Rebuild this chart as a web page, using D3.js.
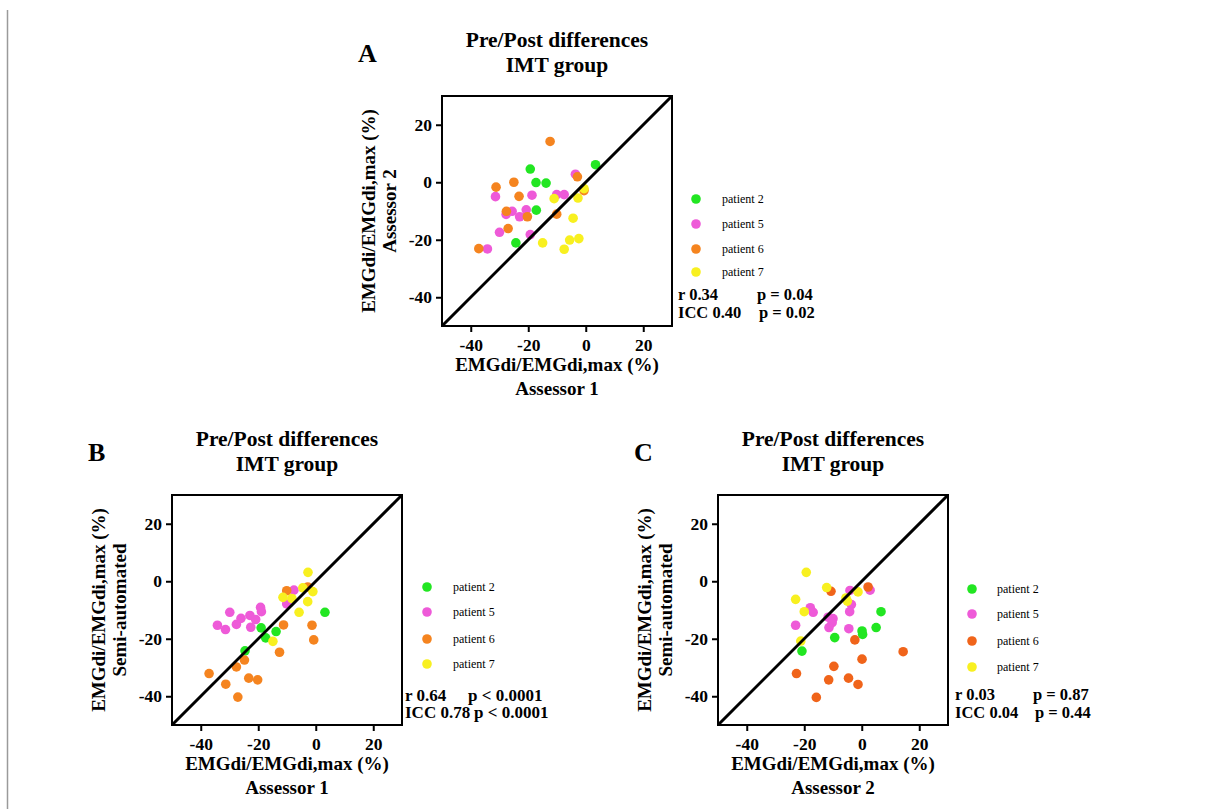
<!DOCTYPE html>
<html>
<head>
<meta charset="utf-8">
<script src="https://cdn.jsdelivr.net/npm/d3@7"></script>
<style>
body { margin: 0; background: #fff; }
text { font-family: "Liberation Serif", "Times New Roman", serif; }
</style>
</head>
<body>
<svg id="fig" width="1212" height="809"></svg>
<script>
var patients = ['patient 2', 'patient 5', 'patient 6', 'patient 7'];
var tickVals = [-40, -20, 0, 20];
var axisDomain = [-50, 30];

// panel A: assessor 1 (x) vs assessor 2 (y)
var a_p2 = [[-19.3,4.6],[-17.3,-0.1],[-13.8,-0.3],[-17.2,-9.7],[-24.3,-21.1],[3.4,6.1]];
var a_p5 = [[-31.4,-5],[-25.6,-10.1],[-27.7,-11.2],[-23,-12],[-20.7,-9.6],[-18.7,-4.5],[-30,-17.4],[-34.2,-23.2],[-19.3,-18.2],[-10.1,-4.3],[-7.5,-4.3],[-3.6,2.8]];
var a_p6 = [[-12.4,14.2],[-31.2,-1.7],[-25,0],[-23.2,-4.9],[-27.6,-10.1],[-20.3,-12],[-27,-16.1],[-37.2,-23.1],[-10.1,-11.1],[-2.9,1.9],[-0.6,-2.9]];
var a_p7 = [[-11,-5.7],[-2.7,-5.5],[-0.6,-2.2],[-4.4,-12.5],[-15,-21.1],[-7.5,-23.3],[-5.6,-20.1],[-2.4,-19.6]];

// panel B: assessor 1 (x) vs semi-automated (y)
var b_p2 = [[-19,-16.2],[-17.4,-19.7],[-13.8,-17.5],[-24.6,-24.2],[3.2,-10.8]];
var b_p5 = [[-34.2,-15.3],[-31.4,-16.8],[-29.9,-10.8],[-27.6,-15],[-26,-12.9],[-22.9,-11.9],[-22.6,-16],[-20.9,-13.3],[-19.2,-9.1],[-18.9,-10.6],[-10.1,-7.9],[-7.6,-3.1]];
var b_p6 = [[-37.1,-32.1],[-31.3,-35.8],[-27.1,-40.3],[-27.6,-29.8],[-24.8,-27.4],[-23.3,-33.7],[-20.2,-34.3],[-12.6,-24.7],[-11.2,-15.2],[-10.1,-3.3],[-2.8,-2],[-1.3,-15.3],[-0.7,-20.4]];
var b_p7 = [[-2.7,3.1],[-4.5,-2.3],[-1,-3.6],[-2.8,-7.1],[-5.8,-10.8],[-11.4,-5.6],[-8.3,-6],[-14.9,-20.9]];

// panel C: assessor 2 (x) vs semi-automated (y)
var c_p2 = [[-20.8,-24.3],[-9.4,-19.6],[0.1,-17.3],[0.3,-18.5],[5,-16.1],[6.7,-10.6]];
var c_p5 = [[-23,-15.3],[-17.9,-9.2],[-16.9,-10.8],[-11.7,-12.5],[-10,-13],[-10.3,-14.4],[-11.4,-16.1],[-4.1,-3.2],[-3.6,-8.1],[-4.2,-10.6],[-4.5,-16.5],[2.9,-3.1]];
var c_p6 = [[-10.7,-3.5],[2.2,-2],[-2.4,-20.4],[14.4,-24.5],[0.1,-27.1],[-9.7,-29.6],[-22.7,-32.1],[-11.5,-34.3],[-4.6,-33.7],[-1.3,-35.9],[-15.8,-40.4]];
var c_p7 = [[-19.3,3.1],[-23,-6.3],[-20,-10.6],[-12.2,-2.2],[-5.5,-5.8],[-5,-6.9],[-1.3,-3.7],[-21.2,-20.8]];

var statsA = ['r 0.34', 'p = 0.04', 'ICC 0.40', 'p = 0.02'];
var statsB = ['r 0.64', 'p < 0.0001', 'ICC 0.78', 'p < 0.0001'];
var statsC = ['r 0.03', 'p = 0.87', 'ICC 0.04', 'p = 0.44'];

var colorsAB = ['#22e622', '#ee5ad8', '#f5841f', '#f8f020'];
var colorsC = ['#22e622', '#ee5ad8', '#f0641a', '#f8f020'];

var svg = d3.select('#fig');
var size = 230;

// thin grey rule on the left of the page
svg.append('line')
    .attr('x1', 7.5).attr('x2', 7.5)
    .attr('y1', 10).attr('y2', 809)
    .attr('stroke', '#9a9a9a')
    .attr('stroke-width', 1.5);

var panels = [
    {letter: 'A', left: 442, top: 96, series: [a_p2, a_p5, a_p6, a_p7], colors: colorsAB,
     ylab: 'Assessor 2', xlab: 'Assessor 1', stats: statsA, statSize: 16.5,
     leg: {dot: 24, txt: 50, ys: [103, 128, 153, 176]}, st: {x: 6, px: 85, px2: 87, y1: 204, y2: 222}},
    {letter: 'B', left: 172, top: 495, series: [b_p2, b_p5, b_p6, b_p7], colors: colorsAB,
     ylab: 'Semi-automated', xlab: 'Assessor 1', stats: statsB, statSize: 17,
     leg: {dot: 25, txt: 51, ys: [92, 117, 144, 169]}, st: {x: 3, px: 66, px2: 72, y1: 206, y2: 223}},
    {letter: 'C', left: 718, top: 495, series: [c_p2, c_p5, c_p6, c_p7], colors: colorsC,
     ylab: 'Semi-automated', xlab: 'Assessor 2', stats: statsC, statSize: 16.5,
     leg: {dot: 24, txt: 49, ys: [94, 119, 146, 172]}, st: {x: 7, px: 85, px2: 87, y1: 205, y2: 223}}
];

panels.forEach(function(p) {
    var g = svg.append('g').attr('transform', 'translate(' + [p.left, p.top] + ')');
    var xScale = d3.scaleLinear().domain(axisDomain).range([0, size]);
    var yScale = d3.scaleLinear().domain(axisDomain).range([size, 0]);

    // panel letter and title
    g.append('text')
        .attr('x', -84).attr('y', -34)
        .style('font-size', '26px').style('font-weight', 'bold')
        .text(p.letter);
    g.append('text')
        .attr('x', size / 2).attr('y', -49)
        .attr('text-anchor', 'middle')
        .style('font-size', '21.5px').style('font-weight', 'bold')
        .text('Pre/Post differences');
    g.append('text')
        .attr('x', size / 2).attr('y', -24)
        .attr('text-anchor', 'middle')
        .style('font-size', '21.5px').style('font-weight', 'bold')
        .text('IMT group');

    // axes
    var yAxis = g.append('g').call(d3.axisLeft(yScale).tickValues(tickVals).tickSize(6).tickSizeOuter(0).tickPadding(4).tickFormat(d3.format('d')));
    var xAxis = g.append('g').attr('transform', 'translate(0,' + size + ')')
        .call(d3.axisBottom(xScale).tickValues(tickVals).tickSize(6).tickSizeOuter(0).tickPadding(7).tickFormat(d3.format('d')));
    [xAxis, yAxis].forEach(function(ax) {
        ax.select('.domain').remove();
        ax.selectAll('line').attr('stroke', '#000').attr('stroke-width', 2);
        ax.selectAll('text')
            .style('font-family', '"Liberation Serif", serif')
            .style('font-size', '17.5px').style('font-weight', 'bold')
            .attr('fill', '#000')
            .text(function(d) { return d < 0 ? '-' + Math.abs(d) : d; });
    });

    // frame
    g.append('rect')
        .attr('width', size).attr('height', size)
        .attr('fill', 'none').attr('stroke', '#000').attr('stroke-width', 2);

    // axis labels
    g.append('text')
        .attr('x', size / 2).attr('y', size + 45)
        .attr('text-anchor', 'middle')
        .style('font-size', '19px').style('font-weight', 'bold')
        .text('EMGdi/EMGdi,max (%)');
    g.append('text')
        .attr('x', size / 2).attr('y', size + 69)
        .attr('text-anchor', 'middle')
        .style('font-size', '19px').style('font-weight', 'bold')
        .text(p.xlab);
    g.append('text')
        .attr('transform', 'translate(' + [-67, size / 2] + ') rotate(-90)')
        .attr('text-anchor', 'middle')
        .style('font-size', '19px').style('font-weight', 'bold')
        .text('EMGdi/EMGdi,max (%)');
    g.append('text')
        .attr('transform', 'translate(' + [-46, size / 2] + ') rotate(-90)')
        .attr('text-anchor', 'middle')
        .style('font-size', '19px').style('font-weight', 'bold')
        .text(p.ylab);

    // points
    p.series.forEach(function(s, i) {
        g.append('g').selectAll('circle')
            .data(s)
            .enter()
            .append('circle')
            .attr('cx', function(d) { return xScale(d[0]); })
            .attr('cy', function(d) { return yScale(d[1]); })
            .attr('r', 4.8)
            .attr('fill', p.colors[i]);
    });

    // identity line
    g.append('line')
        .attr('x1', xScale(axisDomain[0])).attr('y1', yScale(axisDomain[0]))
        .attr('x2', xScale(axisDomain[1])).attr('y2', yScale(axisDomain[1]))
        .attr('stroke', '#000').attr('stroke-width', 3);

    // legend
    var leg = g.append('g').selectAll('g')
        .data(patients)
        .enter()
        .append('g')
        .attr('transform', function(d, i) { return 'translate(' + [size + p.leg.dot, p.leg.ys[i]] + ')'; });
    leg.append('circle')
        .attr('r', 4.8)
        .attr('fill', function(d, i) { return p.colors[i]; });
    leg.append('text')
        .attr('x', p.leg.txt - p.leg.dot).attr('y', 4)
        .style('font-size', '12px')
        .text(function(d) { return d; });

    // statistics
    var st = [[p.st.x, p.st.y1], [p.st.px, p.st.y1], [p.st.x, p.st.y2], [p.st.px2, p.st.y2]];
    p.stats.forEach(function(t, i) {
        g.append('text')
            .attr('x', size + st[i][0]).attr('y', st[i][1])
            .style('font-size', p.statSize + 'px').style('font-weight', 'bold')
            .text(t);
    });
});
</script>
</body>
</html>
